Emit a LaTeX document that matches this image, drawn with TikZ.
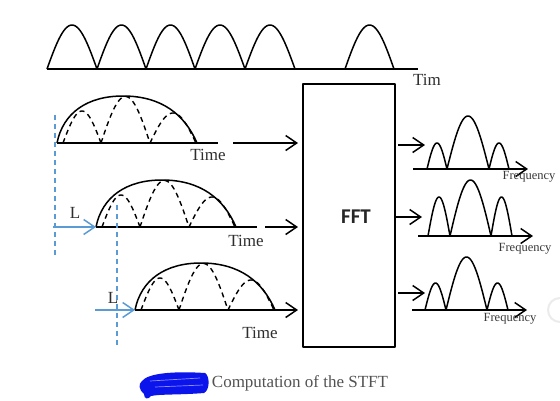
\documentclass[tikz,border=0pt]{standalone}
\usepackage{fontspec}
\setmainfont{Liberation Serif}
\newfontfamily\fftfont{Carlito}
\usetikzlibrary{arrows.meta}
\definecolor{lblue}{RGB}{91,155,213}
\definecolor{scrib}{RGB}{10,20,235}
\newcommand\archd[5][]{\draw[#1] plot[domain=#2:#3,samples=40,smooth] (\x,{#4-#5*sin(180*(\x-#2)/(#3-#2))});}
\newcommand\windowrow{%
  \draw (0,0) .. controls (6,-30) and (30,-47) .. (66,-47) .. controls (105,-47) and (128,-28) .. (140,0);
  \archd[dashes]{6}{44}{0}{32}
  \archd[dashes]{44}{93}{0}{46.5}
  \archd[dashes]{93}{139}{0}{30}
}
\begin{document}
\begin{tikzpicture}[x=1pt,y=-1pt,line width=1.5pt,line join=round,
  barbarrow/.style={-{Straight Barb[length=11pt,width=15pt,line width=1.5pt]}},
  bluearrow/.style={draw=lblue,-{Straight Barb[length=11pt,width=15pt,line width=1.5pt]}},
  dashes/.style={dash pattern=on 5pt off 4pt,line width=1.4pt},
  bluedash/.style={draw=lblue,dash pattern=on 5pt off 4pt,line width=1.3pt},
  lbl/.style={text=black!82,inner sep=0pt,font=\fontsize{17}{17}\selectfont},
  flbl/.style={text=black!78,inner sep=0pt,font=\fontsize{12.5}{12.5}\selectfont}]
\useasboundingbox (0,0) rectangle (560,400);
% top signal
\draw (47,69) -- (418,69);
\archd{47}{97}{69}{44}
\archd{97}{146}{69}{44}
\archd{146}{195}{69}{44}
\archd{195}{245}{69}{44}
\archd{245}{295}{69}{44}
\archd{345}{394}{69}{44}
\node[lbl] (tim) at (427,80) {Tim};
% FFT box
\node[draw,line width=2pt,minimum width=92pt,minimum height=263pt,inner sep=0pt] (fft) at (349,215.5) {};
\node[inner sep=0pt,font=\fftfont\bfseries\fontsize{21}{21}\selectfont,text=black!85] (fftl) at (356,217) {FFT};
% row 1
\coordinate (r1) at (57,143);
\begin{scope}[shift={(r1)}]
  \windowrow
  \draw (0,0) -- (161,0);
\end{scope}
\node[lbl] (t1) at (208,155) {Time};
\coordinate (i1) at (233,143);
\draw[barbarrow,shorten >=4pt] (i1) -- (i1 -| fft.west);
% row 2
\coordinate (r2) at (96,227);
\begin{scope}[shift={(r2)}]
  \windowrow
  \draw (0,0) -- (161,0);
\end{scope}
\node[lbl] (t2) at (246,241) {Time};
\coordinate (i2) at (265,227);
\draw[barbarrow,shorten >=4pt] (i2) -- (i2 -| fft.west);
% row 3
\coordinate (r3) at (135,310);
\begin{scope}[shift={(r3)}]
  \windowrow
\end{scope}
\draw[barbarrow,shorten >=4pt] (r3) -- (r3 -| fft.west);
\node[lbl] (t3) at (260,333) {Time};
% blue markers
\draw[bluedash] (55,115) -- (55,257);
\draw[bluedash] (117,205) -- (117,347);
\coordinate (l2) at (53,227);
\draw[bluearrow] (l2) -- (r2);
\node[lbl] (L2) at (75,213) {L};
\coordinate (l3) at (95,310);
\draw[bluearrow] (l3) -- (r3);
\node[lbl] (L3) at (113,298) {L};
% output arrows
\coordinate (o1) at (398,145); \coordinate (o1e) at (425,145);
\coordinate (o2) at (395,217); \coordinate (o2e) at (422,217);
\coordinate (o3) at (398,293); \coordinate (o3e) at (425,293);
\draw[barbarrow] (o1) -- (o1e);
\draw[barbarrow] (o2) -- (o2e);
\draw[barbarrow] (o3) -- (o3e);
% spectra
\coordinate (s1) at (413,169); \coordinate (s1e) at (528,169);
\draw[barbarrow] (s1) -- (s1e);
\archd{427}{447}{169}{26}
\archd{447}{489}{169}{53}
\archd{489}{509}{169}{26}
\node[flbl] (f1) at (529,177) {Frequency};
\coordinate (s2) at (418,236); \coordinate (s2e) at (533,236);
\draw[barbarrow] (s2) -- (s2e);
\archd{428}{450}{236}{39}
\archd{450}{491}{236}{56}
\archd{491}{512}{236}{39}
\node[flbl] (f2) at (525,249) {Frequency};
\coordinate (s3) at (412,310); \coordinate (s3e) at (527,310);
\draw[barbarrow] (s3) -- (s3e);
\archd{425}{446}{310}{27}
\archd{446}{487}{310}{53}
\archd{487}{508}{310}{27}
\node[flbl] (f3) at (510,319) {Frequency};
% caption
\fill[scrib] (142,381) .. controls (148,373) and (175,371) .. (205,373) .. controls (210,376) and (210,390) .. (204,393) .. controls (180,395) and (160,394) .. (151,396) .. controls (148,400) and (144,399) .. (144,394) .. controls (139,390) and (138,384) .. (142,381) -- cycle;
\draw[blue!45!white,line width=0.7pt] (150,381) -- (200,378);
\draw[blue!45!white,line width=0.7pt] (155,387) -- (203,385);
\node[lbl,text=black!68] (cap) at (300,383) {Computation of the STFT};
% faint artifact at right edge
\draw[black!8,line width=2pt] (560,322) arc (90:270:12);
\end{tikzpicture}
\end{document}
